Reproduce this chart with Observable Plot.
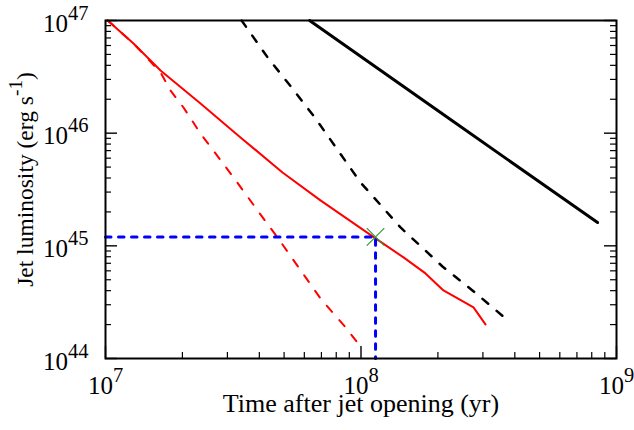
<!DOCTYPE html>
<html><head><meta charset="utf-8">
<script src="https://cdn.jsdelivr.net/npm/d3@7"></script>
<script src="https://cdn.jsdelivr.net/npm/@observablehq/plot@0.6"></script>
<style>
html,body{margin:0;padding:0;background:#fff}
#chart{width:634px;height:430px}
</style>
</head><body><div id="chart"></div>
<script>
// ---- data (time in yr, luminosity in erg/s) ----
const blackSolidT = [6.29e7, 2.24e8, 8.43e8];
const blackSolidL = [1e47, 1.32e46, 1.61e45];
const blackDashT = [3.41e7, 4.31e7, 5.39e7, 6.64e7, 9.95e7, 1.428e8, 2.084e8, 2.73e8, 3.68e8];
const blackDashL = [1e47, 4.7e46, 2.49e46, 1.35e46, 3.66e45, 1.456e45, 6.56e44, 4.02e44, 2.27e44];
const redSolidT = [1.02e7, 1.287e7, 1.642e7, 2.354e7, 3.376e7, 4.93e7, 6.94e7, 1.14e8, 1.467e8, 1.788e8, 2.103e8, 2.756e8, 3.07e8];
const redSolidL = [1e47, 6.25e46, 3.6e46, 1.834e46, 9.17e45, 4.48e45, 2.53e45, 1.164e45, 7.89e44, 5.69e44, 4.02e44, 2.84e44, 2.01e44];
const redDashT = [1.02e7, 1.287e7, 1.642e7, 1.796e7, 2.02e7, 2.354e7, 3.17e7, 4.04e7, 4.71e7, 6.94e7, 8.7e7, 9.87e7];
const redDashL = [1e47, 6.25e46, 3.46e46, 2.39e46, 1.69e46, 9.93e45, 4.05e45, 1.9e45, 1.19e45, 3.41e44, 1.89e44, 1.31e44];
const guideT = [1e7, 1.14e8, 1.14e8];
const guideL = [1.2e45, 1.2e45, 1e44];
const markT = [1.14e8];
const markL = [1.2e45];
const xMajor = [1e7, 1e8, 1e9];
const yMajor = [1e44, 1e45, 1e46, 1e47];
const xMinor = [1e7, 1e8].flatMap(b => [2,3,4,5,6,7,8,9].map(k => k * b));
const yMinor = [1e44, 1e45, 1e46].flatMap(b => [2,3,4,5,6,7,8,9].map(k => k * b));
const xTitle = "Time after jet opening (yr)";
const yTitle = "Jet luminosity (erg s^{-1})";

const W = 634, H = 430, ML = 105, MR = 18, MT = 20, MB = 72;
const FW = W - ML - MR, FH = H - MT - MB;
const MAJ = 12, MIN = 6;

const pts = (T, L) => T.map((t, i) => ({t, L: L[i]}));
const FONT = "Liberation Serif, Times New Roman, serif";
const expFmt = d => "10^{" + Math.round(Math.log10(d)) + "}";

const chart = Plot.plot({
  width: W, height: H,
  marginLeft: ML, marginRight: MR, marginTop: MT, marginBottom: MB,
  style: {fontFamily: FONT, background: "#fff", color: "#000"},
  x: {type: "log", domain: [1e7, 1e9]},
  y: {type: "log", domain: [1e44, 1e47]},
  marks: [
    // data
    Plot.line(pts(blackSolidT, blackSolidL), {x: "t", y: "L", stroke: "#000", strokeWidth: 3}),
    Plot.line(pts(blackDashT, blackDashL), {x: "t", y: "L", stroke: "#000", strokeWidth: 2.5, strokeDasharray: "7.5,11"}),
    Plot.line(pts(redSolidT, redSolidL), {x: "t", y: "L", stroke: "#ff0000", strokeWidth: 2}),
    Plot.line(pts(redDashT, redDashL), {x: "t", y: "L", stroke: "#ff0000", strokeWidth: 2, strokeDasharray: "8,11"}),
    Plot.line(pts(guideT, guideL), {x: "t", y: "L", stroke: "#0000ff", strokeWidth: 3, strokeDasharray: "5.5,7.5"}),
    Plot.dot(pts(markT, markL), {x: "t", y: "L", symbol: "times", r: 8, stroke: "#339933", strokeWidth: 1.2}),
    // inward ticks: bottom, left, right
    Plot.tickX(xMajor, {x: d => d, insetTop: FH - MAJ, stroke: "#000", strokeWidth: 1.4}),
    Plot.tickX(xMinor, {x: d => d, insetTop: FH - MIN, stroke: "#000", strokeWidth: 1.2}),
    Plot.tickY(yMajor, {y: d => d, insetRight: FW - MAJ, stroke: "#000", strokeWidth: 1.4}),
    Plot.tickY(yMinor, {y: d => d, insetRight: FW - MIN, stroke: "#000", strokeWidth: 1.2}),
    Plot.tickY(yMajor, {y: d => d, insetLeft: FW - MAJ, stroke: "#000", strokeWidth: 1.4}),
    Plot.tickY(yMinor, {y: d => d, insetLeft: FW - MIN, stroke: "#000", strokeWidth: 1.2}),
    Plot.frame({stroke: "#000", strokeWidth: 2}),
    // tick labels
    Plot.axisX(xMajor, {anchor: "bottom", label: null, tickSize: 0, tickPadding: 18, tickFormat: expFmt, fontSize: 25, fontFamily: FONT}),
    Plot.axisY(yMajor, {anchor: "left", label: null, tickSize: 0, tickPadding: 17, tickFormat: expFmt, fontSize: 25, fontFamily: FONT, dy: 3}),
    // titles
    Plot.text([xTitle], {frameAnchor: "bottom", textAnchor: "middle", lineAnchor: "bottom", dy: 53, text: d => d, fontSize: 26, fontFamily: FONT, fill: "#000"}),
    Plot.text([yTitle], {frameAnchor: "left", textAnchor: "middle", lineAnchor: "middle", rotate: -90, dx: -80, dy: -10, text: d => d, fontSize: 23.5, fontFamily: FONT, fill: "#000"})
  ]
});
document.getElementById("chart").appendChild(chart);

// turn "a^{b}c" into real superscript tspans
chart.querySelectorAll("text").forEach(t => {
  const s = t.textContent;
  const m = s.match(/^(.*)\^\{([^}]*)\}(.*)$/);
  if (!m) return;
  const fs = parseFloat(getComputedStyle(t).fontSize) || 20;
  const ns = "http://www.w3.org/2000/svg";
  t.textContent = "";
  const a = document.createElementNS(ns, "tspan"); a.textContent = m[1]; t.appendChild(a);
  const b = document.createElementNS(ns, "tspan"); b.textContent = m[2];
  b.setAttribute("font-size", (fs * 0.82).toFixed(1)); b.setAttribute("dy", (-fs * 0.48).toFixed(1));
  t.appendChild(b);
  if (m[3]) {
    const c = document.createElementNS(ns, "tspan"); c.textContent = m[3];
    c.setAttribute("dy", (fs * 0.48).toFixed(1)); t.appendChild(c);
  }
});
</script>
</body></html>
